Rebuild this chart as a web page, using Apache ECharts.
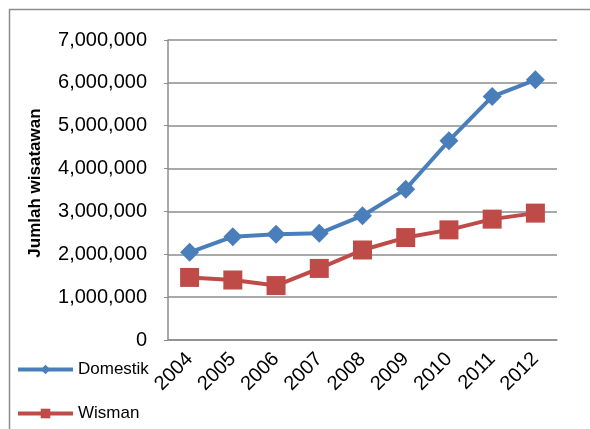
<!DOCTYPE html>
<html>
<head>
<meta charset="utf-8">
<script src="https://cdn.jsdelivr.net/npm/echarts@6/dist/echarts.min.js"></script>
<style>
html,body{margin:0;padding:0;background:#fff;}
#chart{width:590px;height:429px;}
</style>
</head>
<body>
<div id="chart"></div>
<script>
const years = ['2004','2005','2006','2007','2008','2009','2010','2011','2012'];
const domestik = [2046000, 2410000, 2470000, 2490000, 2900000, 3520000, 4650000, 5680000, 6070000];
const wisman = [1460000, 1400000, 1270000, 1670000, 2100000, 2390000, 2570000, 2820000, 2960000];
const yTicks = [0, 1000000, 2000000, 3000000, 4000000, 5000000, 6000000, 7000000];
const yTitle = 'Jumlah wisatawan';

const chart = echarts.init(document.getElementById('chart'));
const font = 'Liberation Sans, Arial, sans-serif';
chart.setOption({
  animation: false,
  backgroundColor: '#fff',
  graphic: [{
    type: 'rect', left: 7, top: 7,
    shape: {width: 600, height: 440},
    style: {fill: 'none', stroke: '#8c8c8c', lineWidth: 1.5}
  }, {
    type: 'text', x: 35, y: 183, rotation: Math.PI / 2,
    style: {text: yTitle, fontFamily: font, fontSize: 17, fontWeight: 'bold', fill: '#000',
      align: 'center', verticalAlign: 'middle'}
  }],
  grid: {left: 168, top: 40, right: 33, bottom: 89},
  legend: {
    orient: 'vertical', left: 11, top: 356, itemGap: 27,
    itemWidth: 55, itemHeight: 12,
    lineStyle: {width: 4},
    textStyle: {fontFamily: font, fontSize: 17, color: '#000'},
    data: ['Domestik', 'Wisman']
  },
  xAxis: {
    type: 'category', data: years, boundaryGap: true,
    axisLine: {lineStyle: {color: '#8c8c8c', width: 1.5}},
    axisTick: {show: false},
    axisLabel: {rotate: 45, fontFamily: font, fontSize: 20, color: '#000', margin: 16}
  },
  yAxis: {
    type: 'value', min: yTicks[0], max: yTicks[yTicks.length - 1], interval: 1000000,
    axisLine: {show: true, lineStyle: {color: '#8c8c8c', width: 1.5}},
    axisTick: {show: true, length: 4, lineStyle: {color: '#8c8c8c'}},
    splitLine: {lineStyle: {color: '#8c8c8c', width: 1.5}},
    axisLabel: {
      fontFamily: font, fontSize: 20, color: '#000', margin: 21,
      formatter: v => v.toLocaleString('en-US')
    }
  },
  series: [{
    name: 'Domestik', type: 'line', data: domestik,
    symbol: 'diamond', symbolSize: 19,
    itemStyle: {color: '#4a7ebb'},
    lineStyle: {color: '#4a7ebb', width: 4}
  }, {
    name: 'Wisman', type: 'line', data: wisman,
    symbol: 'rect', symbolSize: 19,
    itemStyle: {color: '#be4b48'},
    lineStyle: {color: '#be4b48', width: 4}
  }]
});
</script>
</body>
</html>
